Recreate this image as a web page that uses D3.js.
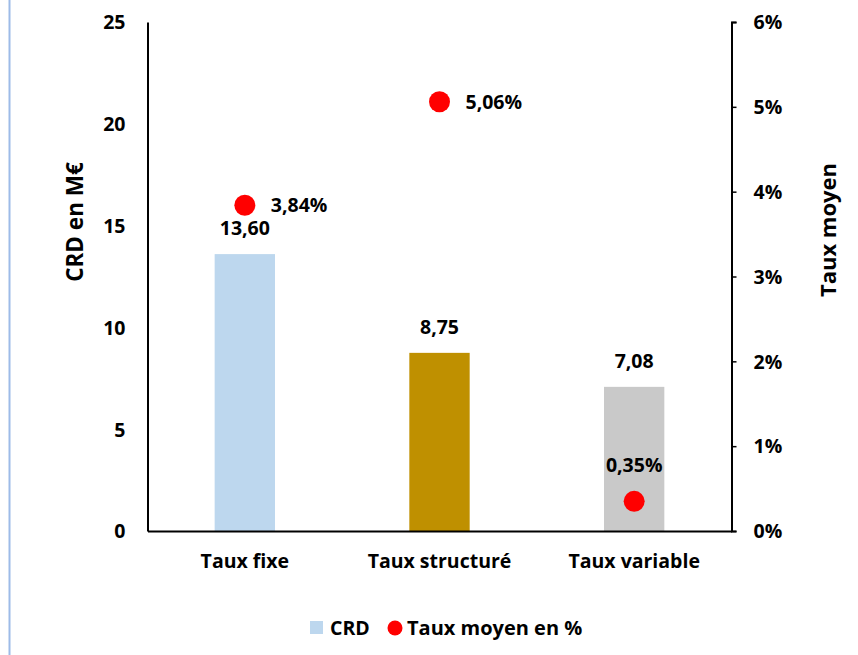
<!DOCTYPE html>
<html>
<head>
<meta charset="utf-8">
<script src="https://cdn.jsdelivr.net/npm/d3@7"></script>
<style>
  body { margin: 0; background: #fff; }
  text { font-family: "Open Sans", "Noto Sans", sans-serif; font-weight: bold; fill: #000; }
</style>
</head>
<body>
<div id="chart"></div>
<script>
// data
var categories = ["Taux fixe", "Taux structuré", "Taux variable"];
var crd = [13.60, 8.75, 7.08];
var taux = [3.84, 5.06, 0.35];
var barColors = ["#BDD7EE", "#BF9000", "#C9C9C9"];
var leftTicks = [0, 5, 10, 15, 20, 25];
var rightTicks = [0, 1, 2, 3, 4, 5, 6];

var W = 858, H = 655;
var svg = d3.select("#chart").append("svg")
    .attr("width", W)
    .attr("height", H);

// left border line of the slide
svg.append("line")
    .attr("x1", 9.5).attr("x2", 9.5)
    .attr("y1", 0).attr("y2", H)
    .attr("stroke", "#9DBBE8")
    .attr("stroke-width", 2);

var x0 = 147.5, x1 = 731.5, yTop = 22, yBot = 531;
var fs = "19.5px";

var x = d3.scaleBand().domain(categories).range([x0, x1]).paddingInner(0.69).paddingOuter(0.345);
var yL = d3.scaleLinear().domain([0, 25]).range([yBot, yTop]);
var yR = d3.scaleLinear().domain([0, 6]).range([yBot, yTop]);

var fmt = function(v, d) { return v.toFixed(d).replace(".", ","); };

// bars
svg.selectAll("rect.bar")
    .data(crd)
    .enter().append("rect")
    .attr("class", "bar")
    .attr("x", function(d, i) { return x(categories[i]); })
    .attr("width", x.bandwidth())
    .attr("y", function(d) { return yL(d); })
    .attr("height", function(d) { return yBot - yL(d); })
    .attr("fill", function(d, i) { return barColors[i]; });

// left axis
var axL = svg.append("g")
    .attr("transform", "translate(" + x0 + ",0)")
    .call(d3.axisLeft(yL).tickValues(leftTicks).tickSize(0).tickPadding(22));
axL.select(".domain").attr("stroke", "#000").attr("stroke-width", 2);
axL.selectAll("text").style("font-size", fs).attr("dy", "0.35em");

// right axis
var axR = svg.append("g")
    .attr("transform", "translate(" + x1 + ",0)")
    .call(d3.axisRight(yR).tickValues(rightTicks).tickSize(5).tickSizeOuter(5).tickPadding(17)
      .tickFormat(function(d) { return d + "%"; }));
axR.select(".domain").attr("stroke", "#000").attr("stroke-width", 2);
axR.selectAll(".tick line").attr("stroke", "#000").attr("stroke-width", 1.5);
axR.selectAll("text").style("font-size", fs).attr("dy", "0.35em");

// bottom axis
var axB = svg.append("g")
    .attr("transform", "translate(0," + yBot + ")")
    .call(d3.axisBottom(x).tickSize(0).tickPadding(23).tickSizeOuter(0));
axB.select(".domain").attr("stroke", "#000").attr("stroke-width", 2);
axB.selectAll("text").style("font-size", fs);

// bar labels
svg.selectAll("text.barlab")
    .data(crd)
    .enter().append("text")
    .attr("class", "barlab")
    .attr("x", function(d, i) { return x(categories[i]) + x.bandwidth() / 2; })
    .attr("y", function(d) { return yL(d) - 19; })
    .attr("text-anchor", "middle")
    .style("font-size", fs)
    .text(function(d) { return fmt(d, 2); });

// dots
svg.selectAll("circle.dot")
    .data(taux)
    .enter().append("circle")
    .attr("class", "dot")
    .attr("cx", function(d, i) { return x(categories[i]) + x.bandwidth() / 2; })
    .attr("cy", function(d) { return yR(d); })
    .attr("r", 10.5)
    .attr("fill", "#FF0000");

svg.selectAll("text.dotlab")
    .data(taux)
    .enter().append("text")
    .attr("class", "dotlab")
    .attr("x", function(d, i) {
      var cx = x(categories[i]) + x.bandwidth() / 2;
      return i === 2 ? cx : cx + 26;
    })
    .attr("y", function(d, i) { return i === 2 ? yR(d) - 29 : yR(d) + 7; })
    .attr("text-anchor", function(d, i) { return i === 2 ? "middle" : "start"; })
    .style("font-size", fs)
    .text(function(d) { return fmt(d, 2) + "%"; });

// axis titles
svg.append("text")
    .attr("transform", "translate(83,222) rotate(-90)")
    .attr("text-anchor", "middle")
    .style("font-size", "22.5px")
    .text("CRD en M€");
svg.append("text")
    .attr("transform", "translate(836,230) rotate(-90)")
    .attr("text-anchor", "middle")
    .style("font-size", "22px")
    .text("Taux moyen");

// legend
var leg = svg.append("g").attr("transform", "translate(310,628)");
leg.append("rect").attr("x", 0).attr("y", -7).attr("width", 13).attr("height", 13).attr("fill", barColors[0]);
leg.append("text").attr("x", 20).attr("y", 7).style("font-size", fs).text("CRD");
leg.append("circle").attr("cx", 85).attr("cy", 0).attr("r", 7.5).attr("fill", "#FF0000");
leg.append("text").attr("x", 97).attr("y", 7).style("font-size", "20px").text("Taux moyen en %");
</script>
</body>
</html>
